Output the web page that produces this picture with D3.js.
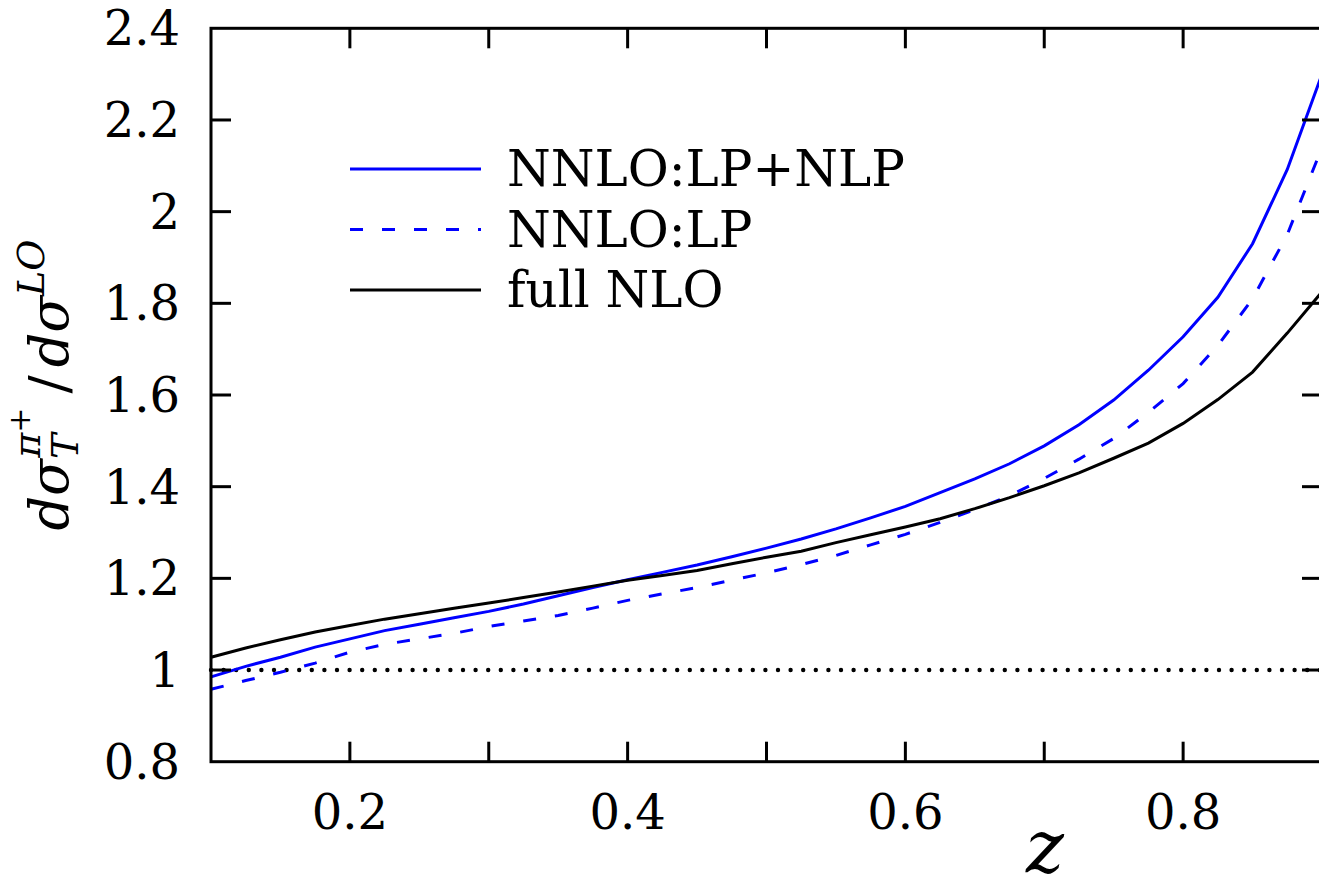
<!DOCTYPE html>
<html>
<head>
<meta charset="utf-8">
<script src="https://cdn.jsdelivr.net/npm/d3@7"></script>
<style>
  body { margin: 0; background: #fff; }
  svg { display: block; }
</style>
</head>
<body>
<svg id="chart"></svg>
<script>
// z grid (step 0.025) and ratios
var zVals = [0.100,0.125,0.150,0.175,0.200,0.225,0.250,0.275,0.300,0.325,0.350,0.375,0.400,
             0.425,0.450,0.475,0.500,0.525,0.550,0.575,0.600,0.625,0.650,0.675,0.700,
             0.725,0.750,0.775,0.800,0.825,0.850,0.875,0.900];
var lpNlp  = [0.985,1.008,1.028,1.050,1.068,1.086,1.100,1.114,1.128,1.144,1.162,1.180,1.197,
              1.213,1.229,1.247,1.266,1.286,1.308,1.332,1.357,1.387,1.417,1.450,1.489,
              1.535,1.589,1.654,1.727,1.813,1.930,2.092,2.300];
var lpOnly = [0.958,0.977,0.995,1.015,1.039,1.056,1.068,1.080,1.095,1.107,1.119,1.135,1.152,
              1.166,1.180,1.196,1.212,1.230,1.250,1.273,1.296,1.322,1.350,1.380,1.418,
              1.460,1.505,1.562,1.625,1.708,1.810,1.950,2.140];
var fullNlo = [1.028,1.048,1.066,1.083,1.097,1.111,1.123,1.135,1.146,1.158,1.170,1.183,1.196,
               1.206,1.217,1.232,1.246,1.259,1.278,1.295,1.312,1.330,1.352,1.376,1.402,
               1.430,1.462,1.495,1.538,1.590,1.650,1.735,1.825];
var xTicks = [0.1,0.2,0.3,0.4,0.5,0.6,0.7,0.8,0.9];
var xLabels = [0.2,0.4,0.6,0.8];
var yTicks = [0.8,1.0,1.2,1.4,1.6,1.8,2.0,2.2,2.4];
var legendNames = ["NNLO:LP+NLP","NNLO:LP","full NLO"];

var W = 1319, H = 889;
var FONT = "'DejaVu Serif', serif";
var svg = d3.select("#chart").attr("width", W).attr("height", H)
  .attr("font-family", FONT);

var x = d3.scaleLinear().domain([0.1, 0.9]).range([211, 1322]);
var y = d3.scaleLinear().domain([0.8, 2.4]).range([761.7, 28.3]);

var series = [
  {name: legendNames[0], vals: lpNlp,  color: "#0000ff", dash: null},
  {name: legendNames[1], vals: lpOnly, color: "#0000ff", dash: "13,19"},
  {name: legendNames[2], vals: fullNlo, color: "#000000", dash: null}
];

// dotted reference at 1
svg.append("line")
  .attr("x1", x(0.1)).attr("x2", x(0.9))
  .attr("y1", y(1)).attr("y2", y(1))
  .attr("stroke", "#000").attr("stroke-width", 4.4)
  .attr("stroke-linecap", "round")
  .attr("stroke-dasharray", "0,12.6");

var line = d3.line()
  .x(function(d){ return x(d[0]); })
  .y(function(d){ return y(d[1]); });

series.forEach(function(s){
  svg.append("path")
    .datum(zVals.map(function(z, i){ return [z, s.vals[i]]; }))
    .attr("d", line)
    .attr("fill", "none")
    .attr("stroke", s.color)
    .attr("stroke-width", 3)
    .attr("stroke-dasharray", s.dash);
});

// frame + mirrored ticks
var frame = svg.append("g").attr("stroke", "#000").attr("stroke-width", 3);
frame.append("rect")
  .attr("x", x(0.1)).attr("y", y(2.4))
  .attr("width", x(0.9) - x(0.1)).attr("height", y(0.8) - y(2.4))
  .attr("fill", "none");

var tl = 20;
xTicks.slice(1, -1).forEach(function(t){
  frame.append("line").attr("x1", x(t)).attr("x2", x(t))
    .attr("y1", y(0.8)).attr("y2", y(0.8) - tl);
  frame.append("line").attr("x1", x(t)).attr("x2", x(t))
    .attr("y1", y(2.4)).attr("y2", y(2.4) + tl);
});
yTicks.slice(1, -1).forEach(function(t){
  frame.append("line").attr("x1", x(0.1)).attr("x2", x(0.1) + tl)
    .attr("y1", y(t)).attr("y2", y(t));
  frame.append("line").attr("x1", x(0.9)).attr("x2", x(0.9) - tl)
    .attr("y1", y(t)).attr("y2", y(t));
});

// tick labels
svg.selectAll(".xl").data(xLabels).enter().append("text")
  .attr("x", function(d){ return x(d); })
  .attr("y", y(0.8) + 67)
  .attr("text-anchor", "middle")
  .attr("font-size", 48)
  .text(function(d){ return d3.format(".1f")(d); });

svg.selectAll(".yl").data(yTicks).enter().append("text")
  .attr("x", 180)
  .attr("y", function(d){ return y(d) + 17; })
  .attr("text-anchor", "end")
  .attr("font-size", 48)
  .text(function(d){ return (d === 1 || d === 2) ? String(d) : d3.format(".1f")(d); });

// axis titles
svg.append("text")
  .attr("x", 1045).attr("y", 872)
  .attr("text-anchor", "middle")
  .attr("font-size", 72)
  .attr("font-style", "italic")
  .text("z");

var yt = svg.append("text")
  .attr("transform", "translate(68,385) rotate(-90)")
  .attr("text-anchor", "middle")
  .attr("font-size", 54)
  .attr("font-style", "italic");
yt.append("tspan").text("dσ");
yt.append("tspan").attr("font-size", 38).attr("dy", 10).text("T");
yt.append("tspan").attr("font-size", 38).attr("dx", -24).attr("dy", -38).text("π");
yt.append("tspan").attr("font-size", 30).attr("font-style", "normal").attr("dy", -10).text("+");
yt.append("tspan").attr("font-style", "normal").attr("dx", 14).attr("dy", 38).text("/");
yt.append("tspan").attr("dx", 8).text("dσ");
yt.append("tspan").attr("font-size", 38).attr("dy", -24).text("LO");

// legend
var lg = svg.append("g");
series.forEach(function(s, i){
  var ly = 169 + i * 60.5;
  lg.append("line")
    .attr("x1", 350).attr("x2", 481)
    .attr("y1", ly).attr("y2", ly)
    .attr("stroke", s.color).attr("stroke-width", 3)
    .attr("stroke-dasharray", s.dash);
  lg.append("text")
    .attr("x", 507).attr("y", ly + 17)
    .attr("font-size", 50)
    .text(s.name);
});
</script>
</body>
</html>
